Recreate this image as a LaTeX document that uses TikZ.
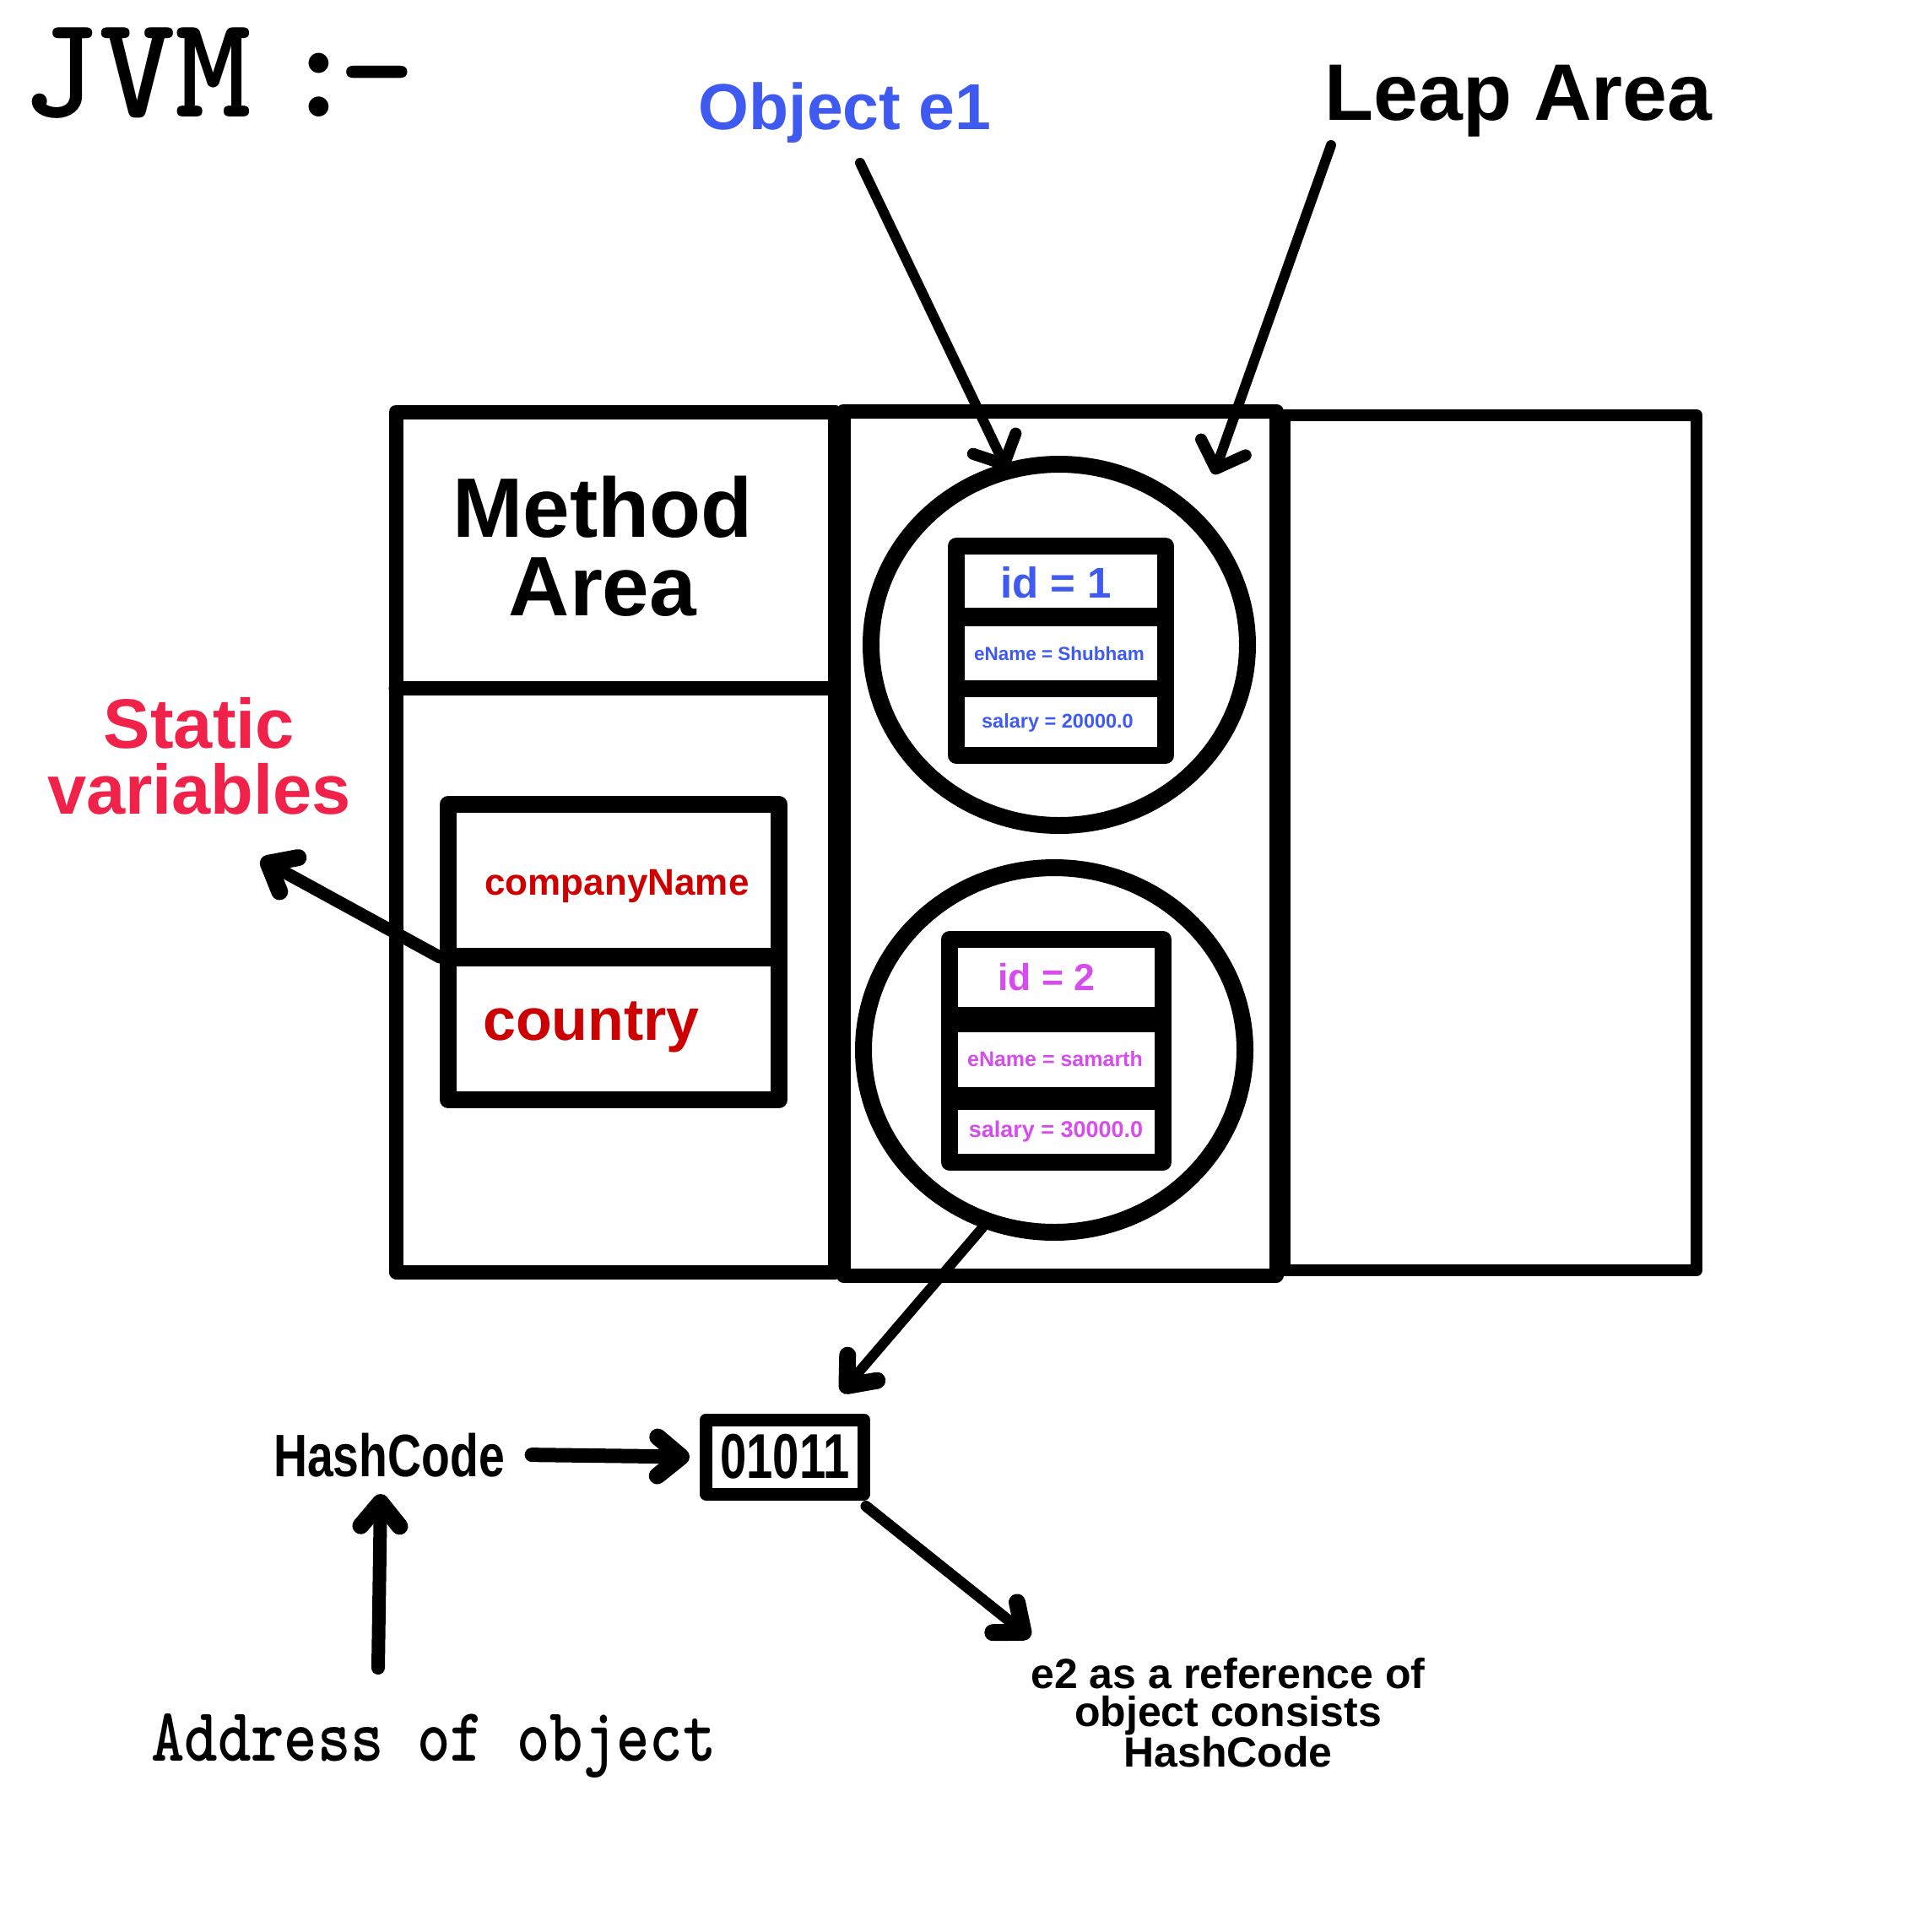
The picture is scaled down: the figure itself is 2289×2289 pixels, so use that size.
\documentclass[tikz,border=0pt]{standalone}
\usepackage{fontspec}
\usepackage{graphicx}
\setmainfont{Liberation Sans}
\newfontfamily\typew{lmmonolt10-bold.otf}
\usetikzlibrary{arrows.meta,shapes.geometric}
\definecolor{objblue}{RGB}{63,90,240}
\definecolor{objmag}{RGB}{214,76,236}
\definecolor{statred}{RGB}{204,0,0}
\definecolor{statpink}{RGB}{240,34,74}
\newcommand\fsz[2]{\fontsize{#1}{#2}\selectfont}
\begin{document}
\begin{tikzpicture}[x=1pt,y=-1pt,
  panel/.style={line width=17, line join=round, line cap=round},
  tbl/.style={line width=20, line join=round},
  circ/.style={ellipse, draw, line width=20, inner sep=0pt},
  arr/.style={line width=12, line cap=round, -{Straight Barb[length=27pt,width=56pt,line width=14pt,round]}},
  arrb/.style={line width=15, line cap=round, -{Straight Barb[length=28pt,width=46pt,line width=20pt,round]}},
  lbl/.style={inner sep=0pt},
  ]
\fill[white] (0,0) rectangle (2289,2289);
\useasboundingbox (0,0) rectangle (2289,2289);

% titles
\node[lbl, anchor=base west, font=\typew\fsz{173}{180}] (jvm) at (26,138) {JVM\hspace{-57pt} :\hspace{-22pt}-};
\node[lbl, anchor=base, text=objblue, font=\bfseries\fsz{77}{80}] (obj) at (1001,153) {Object e1};
\node[lbl, anchor=base, font=\bfseries\fsz{95}{100}] (leap) at (1799,142) {Leap Area};

% panels
\draw[panel] (469,488) rectangle (989,1507);
\draw[panel] (469,815) -- (989,815);
\draw[panel] (999,487) rectangle (1512,1511);
\draw[line width=14, line join=round] (1522,492) rectangle (2010,1505);

\node[lbl, anchor=north, align=center, font=\bfseries\fsz{100}{93}] (method) at (714,564) {Method\\Area};

% static variables
\node[lbl, anchor=north, align=center, text=statpink, font=\bfseries\fsz{83}{78}] (static) at (236,826) {Static\\variables};
\draw[tbl] (531,953) rectangle (923,1303);
\draw[line width=22] (531,1134) -- (923,1134);
\coordinate (svl) at (521,1134);
\node[lbl, anchor=base, text=statred, font=\bfseries\fsz{44}{48}] (cn) at (731,1060) {companyName};
\node[lbl, anchor=base west, text=statred, font=\bfseries\fsz{70}{72}] (ct) at (572,1232) {country};

% object 1
\node[circ, minimum width=446, minimum height=428] (c1) at (1255,764) {};
\draw[tbl] (1133,647) rectangle (1381,895);
\draw[line width=22] (1133,731) -- (1381,731);
\draw[line width=20] (1133,816) -- (1381,816);
\node[lbl, anchor=base, text=objblue, font=\bfseries\fsz{51}{55}] (id1) at (1251,708) {id = 1};
\node[lbl, anchor=base, text=objblue, font=\bfseries\fsz{22.5}{25}] (en1) at (1255,782) {eName = Shubham};
\node[lbl, anchor=base, text=objblue, font=\bfseries\fsz{23.5}{26}] (sa1) at (1253,862) {salary = 20000.0};

% object 2
\node[circ, minimum width=452, minimum height=432] (c2) at (1249,1244) {};
\draw[tbl] (1125,1113) rectangle (1378,1377);
\draw[line width=30] (1125,1208) -- (1378,1208);
\draw[line width=27] (1125,1301) -- (1378,1301);
\node[lbl, anchor=base, text=objmag, font=\bfseries\fsz{44.5}{48}] (id2) at (1240,1173) {id = 2};
\node[lbl, anchor=base, text=objmag, font=\bfseries\fsz{25}{28}] (en2) at (1250,1263) {eName = samarth};
\node[lbl, anchor=base, text=objmag, font=\bfseries\fsz{27}{30}] (sa2) at (1251,1347) {salary = 30000.0};

% hash code
\node[draw, line width=15, line join=round, minimum width=187, minimum height=88, inner sep=0pt, font=\bfseries\fsz{75}{80}] (hb) at (930,1726) {\scalebox{0.75}[1]{01011}};
\node[lbl, anchor=base, font=\bfseries\fsz{71}{75}] (hl) at (461,1749) {\scalebox{0.78}[1]{HashCode}};
\node[lbl, anchor=base, font=\typew\fsz{75}{80}] (addr) at (514,2086) {\scalebox{1}[1.2]{Address of object}};
\node[lbl, anchor=north, align=center, font=\bfseries\fsz{50}{45}] (e2) at (1455,1964) {e2 as a reference of\\object consists\\HashCode};

% connectors
\coordinate (heap) at (1438,562);
\coordinate (stip) at (309,1018);
\draw[arr, shorten >=-8pt] ([shift={(18,40)}]obj.base) -- (c1.107);
\draw[arr] ([shift={(-222,30)}]leap.base) -- (heap);
\draw[arrb] (svl) -- (stip);
\draw[arrb, line width=12] (c2.-112) -- ([shift={(-34,-25)}]hb.north east);
\draw[arrb, line width=17] ([xshift=32]hl.east) -- ([xshift=-12]hb.west);
\draw[arrb, line width=16] ([shift={(-66,-110)}]addr.base) -- ([shift={(-10,21)}]hl.base);
\draw[arrb, line width=13] ([shift={(-5,7)}]hb.south east) -- ([shift={(-1,-24)}]e2.north west);
\end{tikzpicture}
\end{document}
